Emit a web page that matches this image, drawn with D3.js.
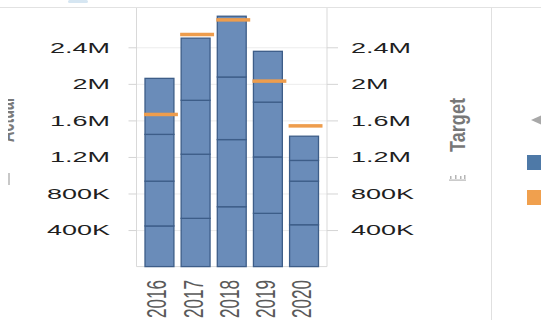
<!DOCTYPE html>
<html>
<head>
<meta charset="utf-8">
<script src="https://cdn.jsdelivr.net/npm/d3@7"></script>
<style>
  html, body { margin: 0; padding: 0; background: #fff; }
  svg { display: block; font-family: "Liberation Sans", Arial, sans-serif; }
</style>
</head>
<body>
<svg id="chart" width="541" height="320"></svg>
<script>
// Yearly actuals, stacked by quarter, with the yearly target drawn as a marker line
const years = ["2016", "2017", "2018", "2019", "2020"];
const q1 = [445000, 528000, 655000, 583000, 458000];
const q2 = [490000, 702000, 735000, 617000, 477000];
const q3 = [512000, 590000, 685000, 600000, 227000];
const q4 = [613000, 680000, 665000, 556000, 265000];
const targets = [1665000, 2540000, 2700000, 2030000, 1540000];
const tickValues = [400000, 800000, 1200000, 1600000, 2000000, 2400000];
const tickLabels = ["400K", "800K", "1.2M", "1.6M", "2M", "2.4M"];
const quarterKeys = ["Q1", "Q2", "Q3", "Q4"];

const rows = years.map((yr, i) => ({ year: yr, Q1: q1[i], Q2: q2[i], Q3: q3[i], Q4: q4[i], target: targets[i] }));

const svg = d3.select("#chart");

// pane geometry
const plotLeft = 136.5, plotRight = 327, plotTop = 8, plotBottom = 266.6;
const textStretch = 1.8;

const x = d3.scaleBand().domain(years).range([145, 318.5]).paddingInner(0.2).paddingOuter(0);
const y = d3.scaleLinear().domain([0, 2830000]).range([plotBottom, plotTop]);

// header rule and pane dividers
svg.append("rect").attr("x", 68).attr("y", 0).attr("width", 20).attr("height", 3).attr("rx", 1.5).attr("fill", "#d6e6f2");
svg.append("line").attr("x1", 0).attr("x2", 541).attr("y1", 7.5).attr("y2", 7.5).attr("stroke", "#e2e2e2");
svg.append("line").attr("x1", 491.5).attr("x2", 491.5).attr("y1", 7.5).attr("y2", 320).attr("stroke", "#e0e0e0");

// gridlines
svg.append("g")
  .attr("transform", `translate(${plotLeft},0)`)
  .call(d3.axisLeft(y).tickValues(tickValues).tickSize(-(plotRight - plotLeft)).tickFormat(""))
  .call(g => g.select(".domain").remove())
  .call(g => g.selectAll("line").attr("stroke", "#ececec"));

// plot frame
svg.append("path")
  .attr("d", `M${plotLeft},${plotTop}V${plotBottom}H${plotRight}V${plotTop}`)
  .attr("fill", "none").attr("stroke", "#d9d9d9");

// stacked quarterly bars
const series = d3.stack().keys(quarterKeys)(rows);
svg.append("g").selectAll("g")
  .data(series).join("g")
  .selectAll("rect")
  .data(d => d).join("rect")
  .attr("x", d => x(d.data.year))
  .attr("width", x.bandwidth())
  .attr("y", d => y(d[1]))
  .attr("height", d => y(d[0]) - y(d[1]))
  .attr("fill", "#6a8cb9")
  .attr("stroke", "#3d5d88")
  .attr("stroke-width", 1.3);

// target markers
svg.append("g").selectAll("rect")
  .data(rows).join("rect")
  .attr("x", d => x(d.year) - 1)
  .attr("width", x.bandwidth() + 5)
  .attr("y", d => y(d.target) - 1.75)
  .attr("height", 3.5)
  .attr("fill", "#ee9d4d");

// left value axis
svg.append("g")
  .attr("transform", `translate(${plotLeft},0)`)
  .call(d3.axisLeft(y).tickValues(tickValues).tickFormat((d, i) => tickLabels[i]).tickSize(8))
  .call(g => g.select(".domain").remove())
  .call(g => g.selectAll("line").attr("stroke", "#d4d4d4"))
  .call(g => g.selectAll("text")
    .attr("x", -(plotLeft - 110) / textStretch)
    .attr("transform", `scale(${textStretch},1)`)
    .attr("fill", "#1f1f1f")
    .style("font-size", "15px"));

// right value axis
svg.append("g")
  .attr("transform", `translate(${plotRight},0)`)
  .call(d3.axisRight(y).tickValues(tickValues).tickFormat((d, i) => tickLabels[i]).tickSize(11))
  .call(g => g.select(".domain").remove())
  .call(g => g.selectAll("line").attr("stroke", "#d4d4d4"))
  .call(g => g.selectAll("text")
    .attr("x", (351 - plotRight) / textStretch)
    .attr("transform", `scale(${textStretch},1)`)
    .attr("fill", "#1f1f1f")
    .style("font-size", "15px"));

// year axis with vertical labels
svg.append("g")
  .attr("transform", `translate(0,${plotBottom})`)
  .call(d3.axisBottom(x).tickSize(0))
  .call(g => g.select(".domain").remove())
  .call(g => g.selectAll("text")
    .attr("x", 0).attr("y", 0).attr("dy", 0)
    .attr("text-anchor", "end")
    .attr("textLength", 38)
    .attr("lengthAdjust", "spacingAndGlyphs")
    .attr("transform", `translate(7,${280 - plotBottom}) scale(1.7,1) rotate(-90)`)
    .attr("fill", "#5a5a5a")
    .style("font-size", "16px"));

// left axis title, clipped by its pane
svg.append("clipPath").attr("id", "leftPane")
  .append("rect").attr("x", 8).attr("y", 8).attr("width", 128).attr("height", 312);
svg.append("g")
  .attr("clip-path", "url(#leftPane)")
  .append("text")
  .attr("transform", "translate(14,120) scale(1.8,1) rotate(-90)")
  .attr("text-anchor", "middle")
  .attr("textLength", 44)
  .attr("lengthAdjust", "spacingAndGlyphs")
  .attr("fill", "#7a7a7a")
  .style("font-size", "14px").style("font-weight", "bold")
  .text("Actual");
svg.append("rect").attr("x", 8).attr("y", 173).attr("width", 2).attr("height", 12).attr("fill", "#c8c8c8");

// right axis title and its sort icon
svg.append("text")
  .attr("transform", "translate(465,125) rotate(-90)")
  .attr("text-anchor", "middle")
  .attr("textLength", 54)
  .attr("lengthAdjust", "spacingAndGlyphs")
  .attr("fill", "#777")
  .style("font-size", "22px").style("font-weight", "bold")
  .text("Target");
const icon = svg.append("g").attr("fill", "#b5b5b5");
[[450, 176, 3], [455, 175, 4], [460, 176, 3], [464, 175, 4]].forEach(([ix, iy, ih]) =>
  icon.append("rect").attr("x", ix).attr("y", iy).attr("width", 1.5).attr("height", ih));
icon.append("rect").attr("x", 449).attr("y", 179.5).attr("width", 17).attr("height", 1.2);

// colour legend, cut by the right edge
svg.append("path").attr("d", "M531,120L541,115.5V124.5Z").attr("fill", "#a8a8a8");
svg.append("rect").attr("x", 527).attr("y", 155).attr("width", 16).attr("height", 15).attr("fill", "#4e79a7");
svg.append("rect").attr("x", 527).attr("y", 190).attr("width", 16).attr("height", 15).attr("fill", "#f0a04e");
</script>
</body>
</html>
